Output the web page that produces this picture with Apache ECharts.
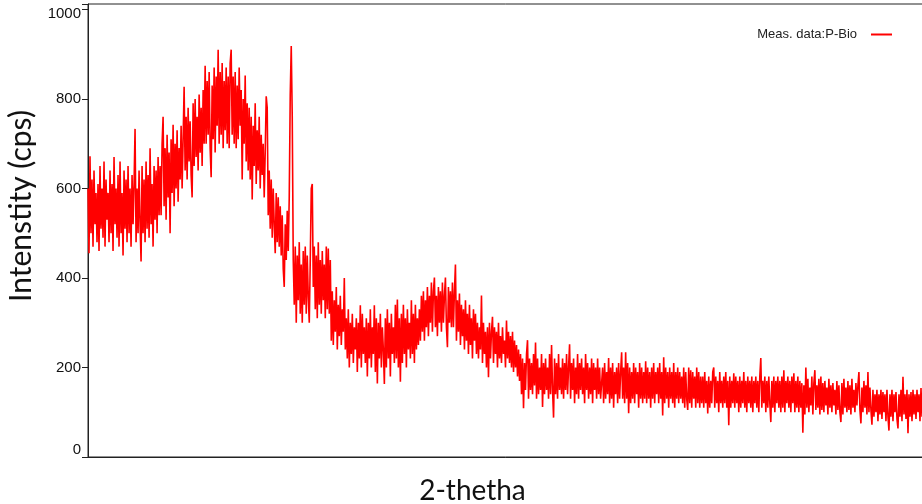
<!DOCTYPE html>
<html>
<head>
<meta charset="utf-8">
<script src="https://cdn.jsdelivr.net/npm/echarts@6/dist/echarts.min.js"></script>
<style>html,body{margin:0;padding:0;background:#fff;}#c{width:922px;height:504px;}</style>
</head>
<body>
<div id="c"></div>
<script>
// XRD scan: intensity (cps), one reading per step across the 2-theta range
const intensity = [
600,455,672,500,620,470,640,520,590,480,
610,460,650,510,600,490,660,470,620,530,
590,480,640,500,610,460,670,520,600,490,
630,470,660,500,590,450,640,510,620,480,
650,500,600,470,630,520,610,733,480,600,
500,640,520,437,650,500,620,480,660,510,630,490,690,520,610,470,650,530,640,500,670,540,
650,540,700,760,560,690,530,720,580,680,500,710,590,742,560,700,600,730,570,690,620,740,600,710,827,
640,760,620,780,660,750,630,580,790,650,800,670,760,640,810,680,780,650,820,700,
874,700,840,720,860,690,625,830,710,870,680,850,740,910,700,860,720,880,690,840,
730,870,700,850,690,880,910,720,850,700,860,690,830,710,870,740,820,620,800,700,852,
660,790,640,780,620,760,575,740,650,790,610,730,640,760,600,720,630,700,580,
680,806,780,540,640,510,620,490,600,520,455,590,480,580,470,560,
450,540,420,380,520,440,550,460,580,810,918,760,
440,340,470,300,450,350,480,320,430,300,460,340,470,320,450,360,300,440,600,610,
380,470,330,450,310,480,340,440,320,460,350,430,310,470,330,466,320,440,
260,370,250,350,280,380,240,340,270,360,250,330,280,400,240,
310,220,330,200,300,230,320,210,290,240,310,190,300,220,339,200,320,230,290,210,
310,180,300,220,330,200,290,230,339,190,310,164,300,220,320,200,290,240,163,310,
200,330,220,300,180,320,230,290,210,340,220,352,200,310,
168,320,210,340,230,310,200,330,240,300,220,350,230,320,210,340,240,310,250,330,260,
360,280,370,260,350,290,380,270,360,300,390,280,370,401,290,360,270,380,300,370,
280,390,300,360,401,290,245,380,300,370,290,390,
290,370,430,260,350,280,365,250,340,270,330,240,350,260,320,230,340,250,310,220,330,260,320,
230,300,220,290,240,361,210,300,230,280,200,290,178,300,220,280,313,210,290,230,
280,200,300,220,270,210,290,230,260,200,305,220,280,210,270,
200,280,190,260,200,250,180,240,170,230,
140,220,109,210,150,230,261,130,220,150,210,140,230,160,256,130,220,140,200,150,
230,112,210,140,220,150,200,130,230,140,250,150,88,220,140,210,130,230,150,200,
140,220,130,210,150,230,140,200,252,130,210,150,220,120,200,140,230,130,210,150,
220,140,200,120,230,150,210,130,200,140,220,120,210,150,200,130,220,140,200,130,
130,200,120,210,130,190,140,221,120,200,130,210,110,190,140,200,120,210,130,190,
234,130,200,120,234,130,210,98,200,120,190,130,210,120,200,140,190,110,210,130,
200,120,190,130,214,120,200,130,190,110,200,130,210,120,190,140,200,120,210,130,
190,93,223,120,200,130,190,110,200,130,190,120,210,110,190,130,200,120,190,130,
180,120,200,110,190,130,105,200,120,194,110,190,130,180,110,200,120,190,110,180,
120,180,110,190,120,170,97,180,110,170,120,190,200,110,180,120,170,100,190,120,
170,110,180,120,190,110,170,71,180,110,170,120,187,110,180,120,170,100,180,110,
170,120,190,110,170,100,180,120,170,110,180,100,170,120,180,110,170,100,180,221,
110,170,120,180,100,170,110,180,120,78,170,110,180,100,170,120,180,110,170,100,
180,110,194,100,170,120,180,110,170,100,180,120,187,100,170,110,180,100,170,110,
165,54,160,95,200,110,175,100,155,115,180,95,165,194,105,160,110,175,95,180,
105,165,100,170,115,155,95,175,110,160,100,165,115,150,95,170,105,160,100,78,
165,95,175,110,155,100,170,105,160,95,175,110,150,100,165,115,160,190,105,75,
155,100,170,110,160,95,190,100,155,105,
72,150,90,140,100,150,80,140,95,150,85,145,100,140,80,150,90,59,140,90,
150,80,140,100,145,85,64,140,90,150,80,179,95,140,85,150,53,140,90,145,
80,150,95,140,85,150,100,140,80,154,90,130
];
const yTicks = [0, 200, 400, 600, 800, 1000];
const seriesName = 'Meas. data:P-Bio';

const labelFont = {fontFamily: 'Liberation Sans, Arial, sans-serif', fontSize: 15, color: '#111'};
const chart = echarts.init(document.getElementById('c'), null, {renderer: 'canvas'});
chart.setOption({
  animation: false,
  backgroundColor: '#fff',
  grid: {left: 88, right: -1, top: 4, bottom: 47, outerBoundsMode: 'none', containLabel: false,
         show: true, borderColor: '#222', borderWidth: 1, backgroundColor: 'transparent'},
  legend: {
    right: 30, top: 28, padding: 0, align: 'right',
    icon: 'rect', itemWidth: 21, itemHeight: 2,
    textStyle: {fontFamily: 'Liberation Sans, Arial, sans-serif', fontSize: 13, color: '#222', padding: [0, 9, 0, 0]},
    data: [{name: seriesName, itemStyle: {color: '#ff0000'}}]
  },
  xAxis: {
    type: 'category', boundaryGap: false,
    name: '2-thetha', nameLocation: 'middle', nameGap: 20,
    nameTextStyle: {fontFamily: 'Lato, sans-serif', fontSize: 28, color: '#111', padding: [0, 66, 0, 0]},
    axisLine: {lineStyle: {color: '#222', width: 1}},
    axisTick: {show: false}, axisLabel: {show: false}, splitLine: {show: false}
  },
  yAxis: {
    type: 'value', min: 0, max: 1012, interval: 200,
    name: 'Intenstity (cps)', nameLocation: 'middle', nameGap: 47,
    nameTextStyle: {fontFamily: 'Lato, sans-serif', fontSize: 30, color: '#111', padding: [0, 0, 0, 49]},
    axisLine: {show: true, lineStyle: {color: '#222', width: 1}},
    axisTick: {show: true, length: 6, lineStyle: {color: '#222'}},
    axisLabel: Object.assign({
      margin: 7,
      verticalAlignMinLabel: 'bottom',
      formatter: v => (v === 1000 ? '{top|1000}' : (yTicks.indexOf(v) >= 0 ? String(v) : '')),
      rich: {top: Object.assign({padding: [8, 0, 0, 0]}, labelFont)}
    }, labelFont),
    splitLine: {show: false}
  },
  series: [{
    name: seriesName, type: 'line', data: intensity,
    showSymbol: false, symbol: 'none',
    lineStyle: {color: '#ff0000', width: 1.6},
    itemStyle: {color: '#ff0000'}
  }]
});
</script>
</body>
</html>
